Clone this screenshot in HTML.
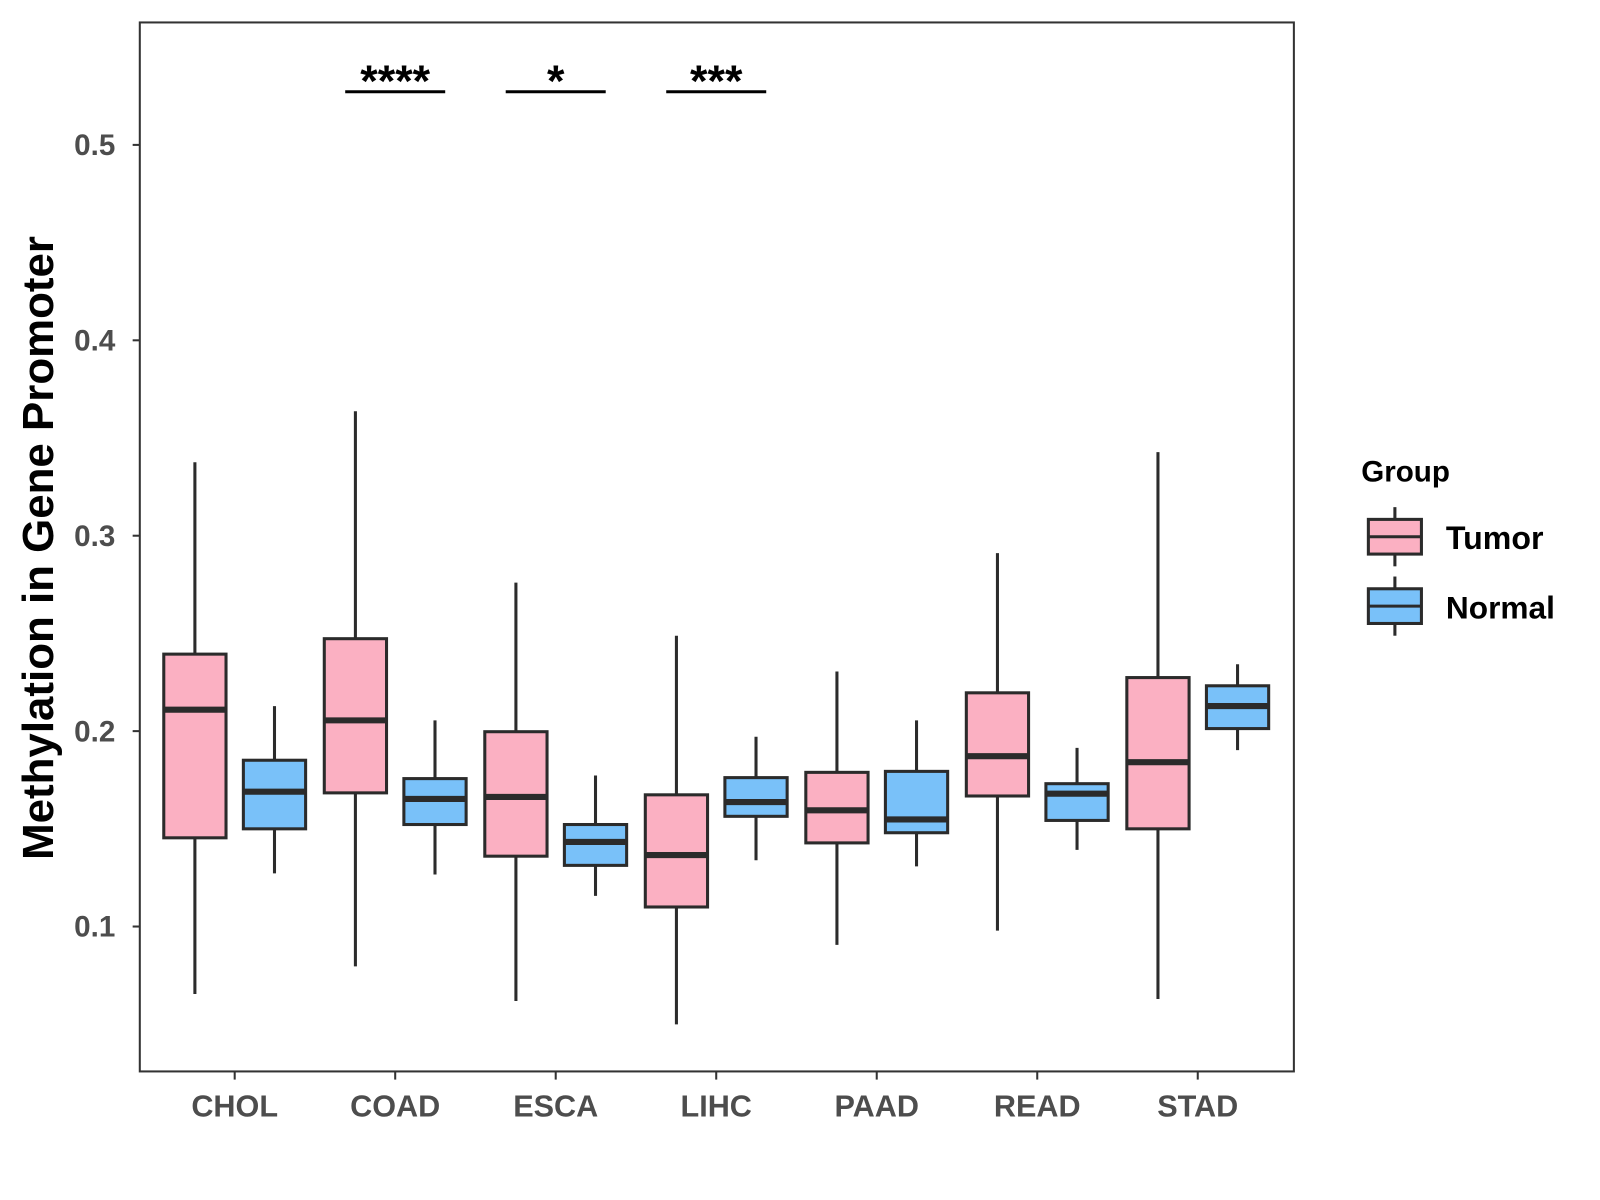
<!DOCTYPE html>
<html><head><meta charset="utf-8"><style>
html,body{margin:0;padding:0;background:#fff;}
svg{display:block;font-family:"Liberation Sans",Arial,sans-serif;}
</style></head><body>
<svg id="chart" width="1600" height="1200" viewBox="0 0 1568 1176" xmlns="http://www.w3.org/2000/svg">
<rect x="0" y="0" width="1568" height="1176" fill="#fff"/>
<g id="plot"></g>
<rect x="137" y="22" width="1131" height="1028" fill="none" stroke="#333" stroke-width="2"/>
<text transform="translate(52,537) rotate(-90)" text-anchor="middle" font-size="43" font-weight="bold" fill="#000">Methylation in Gene Promoter</text>
<g>
<text x="1334" y="472" font-size="29" font-weight="bold" fill="#000">Group</text>
<g>
<line x1="1367" y1="497" x2="1367" y2="555" stroke="#2b2b2b" stroke-width="3"/>
<rect x="1341" y="509" width="52" height="34" fill="#FBB0C2" stroke="#2b2b2b" stroke-width="3"/>
<line x1="1341" y1="526" x2="1393" y2="526" stroke="#2b2b2b" stroke-width="3"/>
<text x="1417" y="538" font-size="31.5" font-weight="bold" fill="#000">Tumor</text>
</g>
<g>
<line x1="1367" y1="565" x2="1367" y2="623" stroke="#2b2b2b" stroke-width="3"/>
<rect x="1341" y="577" width="52" height="34" fill="#79C1F9" stroke="#2b2b2b" stroke-width="3"/>
<line x1="1341" y1="594" x2="1393" y2="594" stroke="#2b2b2b" stroke-width="3"/>
<text x="1417" y="606" font-size="31" font-weight="bold" fill="#000">Normal</text>
</g>
</g>
</svg>
<script>
const categories = ["CHOL","COAD","ESCA","LIHC","PAAD","READ","STAD"];
// [lowerWhisker, Q1, median, Q3, upperWhisker]
const tumorStats = [
 [0.0655,0.1454,0.211,0.2394,0.3376],
 [0.0796,0.1684,0.2055,0.2473,0.3637],
 [0.0619,0.136,0.1663,0.1997,0.276],
 [0.0499,0.110,0.1366,0.1674,0.2488],
 [0.0906,0.1428,0.1595,0.1789,0.2305],
 [0.0979,0.1668,0.1872,0.2196,0.2911],
 [0.0629,0.150,0.1841,0.2274,0.3428]
];
const normalStats = [
 [0.1272,0.150,0.169,0.1851,0.2128],
 [0.1266,0.1522,0.1653,0.1757,0.2055],
 [0.1157,0.1313,0.1433,0.1522,0.1773],
 [0.1339,0.1564,0.1637,0.1762,0.1971],
 [0.1308,0.148,0.1548,0.1794,0.2055],
 [0.1392,0.1543,0.168,0.1731,0.1914],
 [0.1903,0.2013,0.2128,0.2232,0.2342]
];
const yTicks = [0.1,0.2,0.3,0.4,0.5];
const sigCategories = ["COAD","ESCA","LIHC"];
const sigLabels = ["****","*","***"];
const sigLevel = 0.5272;

const NS="http://www.w3.org/2000/svg";
const svg=document.getElementById('chart');
const plot=document.getElementById('plot');
const y=v=>142+(0.5-v)*1915;
const x=i=>230+i*157.3;
function mk(tag,attrs,parent){const e=document.createElementNS(NS,tag);for(const k in attrs)e.setAttribute(k,attrs[k]);(parent||plot).appendChild(e);return e;}

yTicks.forEach(t=>{
 const l=mk('line',{x1:130,x2:137,y1:y(t),y2:y(t),stroke:'#333','stroke-width':2},svg);
 
 
 const tx=mk('text',{x:113,y:y(t)+10,'text-anchor':'end','font-size':29,'font-weight':'bold',fill:'#4d4d4d'},svg);
 tx.textContent=t.toFixed(1);
 
 
});
categories.forEach((c,i)=>{
 const l=mk('line',{x1:x(i),x2:x(i),y1:1050,y2:1058,stroke:'#333','stroke-width':2},svg);
 
 
 const tx=mk('text',{x:x(i),y:1094,'text-anchor':'middle','font-size':30,'font-weight':'bold',fill:'#4d4d4d'},svg);
 tx.textContent=c;
 
 
});
function box(cx,s,fill,name){
 const g=mk('g',{});
 
 
 mk('line',{x1:cx,x2:cx,y1:y(s[4]),y2:y(s[0]),stroke:'#2b2b2b','stroke-width':3},g);
 mk('rect',{x:cx-30.5,y:y(s[3]),width:61,height:y(s[1])-y(s[3]),fill:fill,stroke:'#2b2b2b','stroke-width':3},g);
 mk('line',{x1:cx-30.5,x2:cx+30.5,y1:y(s[2]),y2:y(s[2]),stroke:'#2b2b2b','stroke-width':6},g);
}
categories.forEach((c,i)=>{
 box(x(i)-39,tumorStats[i],'#FBB0C2','box-tumor-'+c.toLowerCase());
 box(x(i)+39,normalStats[i],'#79C1F9','box-normal-'+c.toLowerCase());
});
sigCategories.forEach((c,k)=>{
 const i=categories.indexOf(c);
 const l=mk('line',{x1:x(i)-49,x2:x(i)+49,y1:y(sigLevel),y2:y(sigLevel),stroke:'#000','stroke-width':3},svg);
 
 
 const t=mk('text',{x:x(i),y:y(sigLevel)+4,'text-anchor':'middle','font-size':44,'font-weight':'bold',fill:'#000'},svg);
 t.textContent=sigLabels[k];
 
 
});
</script>
</body></html>
